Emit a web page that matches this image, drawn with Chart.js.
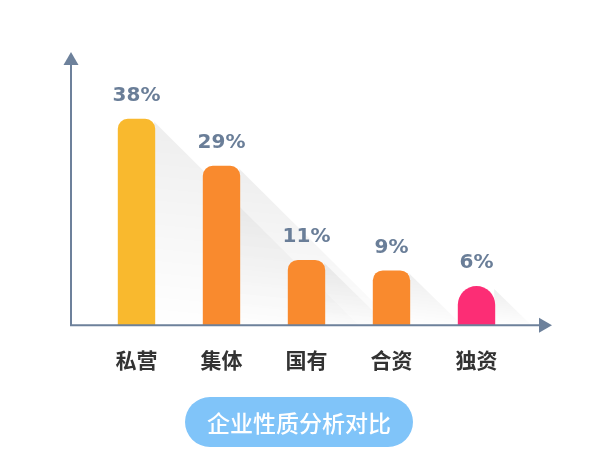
<!DOCTYPE html>
<html>
<head>
<meta charset="utf-8">
<script src="https://cdn.jsdelivr.net/npm/chart.js@4"></script>
<style>
  html, body { margin: 0; padding: 0; background: #ffffff; }
  #wrap { width: 600px; height: 472px; position: relative; }
</style>
</head>
<body>
<div id="wrap"><canvas id="c" width="600" height="472"></canvas></div>
<script>
const categories = ['私营', '集体', '国有', '合资', '独资'];
const shares = [38, 29, 11, 9, 6];
const valueLabels = ['38%', '29%', '11%', '9%', '6%'];
const barColors = ['#F9B92E', '#F98A2E', '#F98A2E', '#F98A2E', '#FC2D75'];
const barRadii = [10, 10, 10, 10, 19];
const chartTitle = '企业性质分析对比';

const AXIS_COLOR = '#6D819B';

const decorPlugin = {
  id: 'decor',
  beforeDatasetsDraw(chart) {
    const ctx = chart.ctx;
    const meta = chart.getDatasetMeta(0);
    const bottom = chart.chartArea.bottom;
    ctx.save();
    meta.data.forEach((bar) => {
      const half = bar.width / 2;
      const right = bar.x + half;
      const top = bar.y + 3;
      const h = bottom - top;
      const g = ctx.createLinearGradient(right, top, right - h * 0.1, bottom);
      g.addColorStop(0, 'rgba(0,0,0,0.065)');
      g.addColorStop(1, 'rgba(0,0,0,0)');
      ctx.beginPath();
      ctx.moveTo(right - 1, top);
      ctx.lineTo(right + h, bottom);
      ctx.lineTo(right - 1, bottom);
      ctx.closePath();
      ctx.fillStyle = g;
      ctx.fill();
    });
    ctx.restore();
  },
  afterDatasetsDraw(chart) {
    const ctx = chart.ctx;
    const ca = chart.chartArea;
    const meta = chart.getDatasetMeta(0);
    ctx.save();
    // axes
    const ax = ca.left - 23;
    const ay = ca.bottom;
    ctx.strokeStyle = AXIS_COLOR;
    ctx.fillStyle = AXIS_COLOR;
    ctx.lineWidth = 2;
    ctx.beginPath();
    ctx.moveTo(ax, ay);
    ctx.lineTo(ax, ca.top + 6);
    ctx.moveTo(ax - 1, ay);
    ctx.lineTo(ca.right + 25, ay);
    ctx.stroke();
    // up arrow
    ctx.beginPath();
    ctx.moveTo(ax, ca.top - 4);
    ctx.lineTo(ax + 7.5, ca.top + 9);
    ctx.lineTo(ax - 7.5, ca.top + 9);
    ctx.closePath();
    ctx.fill();
    // right arrow
    ctx.beginPath();
    ctx.moveTo(ca.right + 33, ay);
    ctx.lineTo(ca.right + 20, ay - 7.5);
    ctx.lineTo(ca.right + 20, ay + 7.5);
    ctx.closePath();
    ctx.fill();
    // value labels
    ctx.fillStyle = '#6A7E98';
    ctx.font = 'bold 20px "DejaVu Sans", sans-serif';
    ctx.textAlign = 'center';
    ctx.textBaseline = 'middle';
    meta.data.forEach((bar, i) => {
      ctx.fillText(valueLabels[i], bar.x, bar.y - 23);
    });
    ctx.restore();
  },
  afterDraw(chart) {
    const ctx = chart.ctx;
    ctx.save();
    const cx = 299, cy = 422, w = 228, h = 50;
    ctx.fillStyle = '#80C4F9';
    ctx.beginPath();
    ctx.roundRect(cx - w / 2, cy - h / 2, w, h, h / 2);
    ctx.fill();
    ctx.fillStyle = '#FFFFFF';
    ctx.font = '500 23px "Noto Sans CJK SC", sans-serif';
    ctx.textAlign = 'center';
    ctx.textBaseline = 'middle';
    ctx.fillText(chartTitle, cx, cy + 1);
    ctx.restore();
  }
};

new Chart(document.getElementById('c'), {
  type: 'bar',
  data: {
    labels: categories,
    datasets: [{
      data: shares,
      base: -1.5,
      backgroundColor: barColors,
      borderRadius: (ctx) => barRadii[ctx.dataIndex] || 0,
      borderSkipped: 'start',
      categoryPercentage: 1,
      barPercentage: 0.44
    }]
  },
  options: {
    responsive: false,
    animation: false,
    devicePixelRatio: 1,
    layout: { padding: { left: 94, right: 81, top: 56, bottom: 77.5 } },
    plugins: { legend: { display: false }, tooltip: { enabled: false } },
    scales: {
      x: {
        grid: { display: false, drawTicks: false },
        border: { display: false },
        ticks: {
          padding: 22,
          color: '#333333',
          font: { family: '"Noto Sans CJK SC", sans-serif', size: 21, weight: 'bold' }
        }
      },
      y: {
        display: false,
        min: -1.5,
        max: 50
      }
    }
  },
  plugins: [decorPlugin]
});
</script>
</body>
</html>
